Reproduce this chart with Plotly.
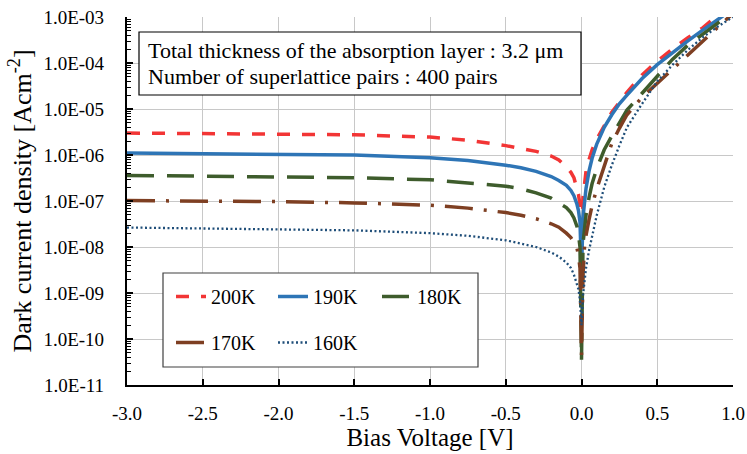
import plotly.graph_objects as go

# ---- data ----
bias_v = [-3.0, -2.5, -2.0, -1.5, -1.0, -0.75, -0.5, -0.4, -0.3, -0.2, -0.15, -0.1,
          -0.07, -0.05, -0.03, -0.02, -0.01, 0.0, 0.01, 0.02, 0.03, 0.05, 0.07, 0.1,
          0.15, 0.2, 0.25, 0.3, 0.4, 0.5, 0.6, 0.7, 0.8, 0.9, 1.0]

j_200k = [3.0e-6, 2.95e-6, 2.9e-6, 2.75e-6, 2.45e-6, 2.1e-6, 1.6e-6, 1.4e-6, 1.2e-6, 9.5e-7,
          7.8e-7, 5.5e-7, 4.2e-7, 3.2e-7, 2.0e-7, 1.4e-7, 8.0e-8, 1.5e-8, 1.2e-7, 2.5e-7,
          4.5e-7, 8.0e-7, 1.3e-6, 2.2e-6, 4.5e-6, 8.5e-6, 1.4e-5, 2.3e-5, 5.5e-5, 1.1e-4,
          2.0e-4, 3.5e-4, 5.8e-4, 1.1e-3, 1.8e-3]

j_190k = [1.1e-6, 1.08e-6, 1.05e-6, 1.0e-6, 8.7e-7, 7.6e-7, 6.0e-7, 5.3e-7, 4.4e-7, 3.4e-7,
          2.8e-7, 2.2e-7, 1.7e-7, 1.3e-7, 8.5e-8, 6.2e-8, 3.5e-8, 3.0e-9, 4.5e-8, 1.0e-7,
          1.9e-7, 4.5e-7, 8.5e-7, 1.7e-6, 4.0e-6, 7.5e-6, 1.3e-5, 2.0e-5, 4.6e-5, 9.2e-5,
          1.7e-4, 3.0e-4, 5.2e-4, 9.0e-4, 1.5e-3]

j_180k = [3.6e-7, 3.5e-7, 3.4e-7, 3.2e-7, 2.9e-7, 2.5e-7, 2.1e-7, 1.85e-7, 1.5e-7, 1.15e-7,
          9.2e-8, 7.2e-8, 5.6e-8, 4.3e-8, 2.8e-8, 1.9e-8, 1.0e-8, 3.5e-11, 1.2e-8, 2.8e-8,
          5.0e-8, 1.2e-7, 2.4e-7, 5.0e-7, 1.3e-6, 2.6e-6, 5.0e-6, 9.5e-6, 2.2e-5, 5.2e-5,
          1.2e-4, 2.4e-4, 4.3e-4, 7.5e-4, 1.3e-3]

j_170k = [1.02e-7, 1.0e-7, 9.7e-8, 9.1e-8, 8.1e-8, 7.0e-8, 5.6e-8, 4.9e-8, 4.1e-8, 3.2e-8,
          2.7e-8, 2.0e-8, 1.6e-8, 1.25e-8, 9.5e-9, 6.5e-9, 3.5e-9, 4.5e-11, 2.5e-9, 1.0e-8,
          1.8e-8, 4.0e-8, 8.0e-8, 1.8e-7, 6.0e-7, 1.8e-6, 3.8e-6, 7.5e-6, 1.8e-5, 3.6e-5,
          7.5e-5, 1.5e-4, 3.0e-4, 6.0e-4, 1.2e-3]

j_160k = [2.65e-8, 2.55e-8, 2.45e-8, 2.3e-8, 2.0e-8, 1.75e-8, 1.4e-8, 1.2e-8, 1.0e-8, 7.6e-9,
          6.2e-9, 4.6e-9, 3.5e-9, 2.5e-9, 1.6e-9, 1.2e-9, 7.0e-10, 2.0e-10, 9.0e-10, 2.2e-9,
          3.5e-9, 8.5e-9, 1.8e-8, 4.8e-8, 2.0e-7, 6.0e-7, 1.6e-6, 4.0e-6, 1.3e-5, 4.0e-5,
          9.0e-5, 1.9e-4, 3.6e-4, 6.2e-4, 1.0e-3]

y_tickvals = [1e-11, 1e-10, 1e-9, 1e-8, 1e-7, 1e-6, 1e-5, 1e-4, 1e-3]
y_ticktext = ["1.0E-11", "1.0E-10", "1.0E-09", "1.0E-08", "1.0E-07",
              "1.0E-06", "1.0E-05", "1.0E-04", "1.0E-03"]
x_tickvals = [-3.0, -2.5, -2.0, -1.5, -1.0, -0.5, 0.0, 0.5, 1.0]
x_ticktext = ["-3.0", "-2.5", "-2.0", "-1.5", "-1.0", "-0.5", "0.0", "0.5", "1.0"]

note_lines = ["Total thickness of the absorption layer : 3.2 μm",
              "Number of superlattice pairs : 400 pairs"]

FONT = "Liberation Serif"

series = [
    ("200K", j_200k, "#F23535", "13px,12px", 3.5, "legend"),
    ("190K", j_190k, "#2E75B6", "solid", 3.5, "legend2"),
    ("180K", j_180k, "#3E5C2C", "27px,13px", 3.5, "legend3"),
    ("170K", j_170k, "#7E3F22", "28px,11px,3px,11px", 3.5, "legend"),
    ("160K", j_160k, "#1F4E79", "2px,2.5px", 2.3, "legend2"),
]

fig = go.Figure()
for name, vals, color, dash, w, lg in series:
    fig.add_trace(go.Scatter(
        x=bias_v, y=vals, mode="lines", name=name,
        line=dict(color=color, dash=dash, width=w),
        legend=lg, legendgroup=name,
    ))

W, H = 747, 454
L, R, T, B = 127, 14, 17, 69
pw, ph = W - L - R, H - T - B

def px_x(p):
    return (p - L) / pw

def px_y(p):
    return (H - B - p) / ph

legend_common = dict(
    orientation="v", bgcolor="rgba(0,0,0,0)", borderwidth=0,
    font=dict(family=FONT, size=20, color="black"),
    itemwidth=30, tracegroupgap=17, xanchor="left", yanchor="top",
)

fig.update_layout(
    width=W, height=H,
    margin=dict(l=L, r=R, t=T, b=B, autoexpand=False),
    paper_bgcolor="white", plot_bgcolor="white",
    font=dict(family=FONT, size=19, color="black"),
    legend=dict(x=px_x(171), y=px_y(277), **legend_common),
    legend2=dict(x=px_x(273), y=px_y(277), **legend_common),
    legend3=dict(x=px_x(377), y=px_y(277), **legend_common),
    shapes=[
        dict(type="rect", xref="paper", yref="paper",
             x0=px_x(139), x1=px_x(581), y0=px_y(95), y1=px_y(32),
             line=dict(color="black", width=1.2), fillcolor="white", layer="above"),
        dict(type="rect", xref="paper", yref="paper",
             x0=px_x(163), x1=px_x(478), y0=px_y(367), y1=px_y(273),
             line=dict(color="#404040", width=1.2), fillcolor="white", layer="above"),
    ],
    annotations=[
        dict(xref="paper", yref="paper", x=px_x(146), y=px_y(yc),
             xanchor="left", yanchor="middle", align="left", showarrow=False,
             text=t, font=dict(family=FONT, size=22, color="black"))
        for t, yc in zip(note_lines, [50, 76])
    ],
)

fig.update_xaxes(
    range=[-3.0, 1.0], tickvals=x_tickvals, ticktext=x_ticktext,
    showgrid=True, gridcolor="#C8C8C8", gridwidth=1.3, zeroline=False,
    showline=True, linecolor="black", linewidth=2.2,
    ticks="inside", ticklen=6, tickwidth=2, tickcolor="black",
    ticklabelstandoff=10, automargin=False,
    tickfont=dict(family=FONT, size=19, color="black"),
    title=dict(text="Bias Voltage [V]", font=dict(family=FONT, size=25, color="black"),
               standoff=4),
)

fig.update_yaxes(
    type="log", range=[-11, -3], tickvals=y_tickvals, ticktext=y_ticktext,
    showgrid=True, gridcolor="#C8C8C8", gridwidth=1.3, zeroline=False,
    showline=True, linecolor="black", linewidth=2.2,
    ticks="inside", ticklen=6, tickwidth=2, tickcolor="black",
    minor=dict(ticks="inside", ticklen=4, tickwidth=1.3, tickcolor="black",
               dtick="D1", showgrid=False),
    ticklabelstandoff=17, automargin=False,
    tickfont=dict(family=FONT, size=19, color="black"),
    title=dict(text="Dark current density [Acm<sup>-2</sup>]",
               font=dict(family=FONT, size=26, color="black"), standoff=4),
)

fig.write_html("out.html")
